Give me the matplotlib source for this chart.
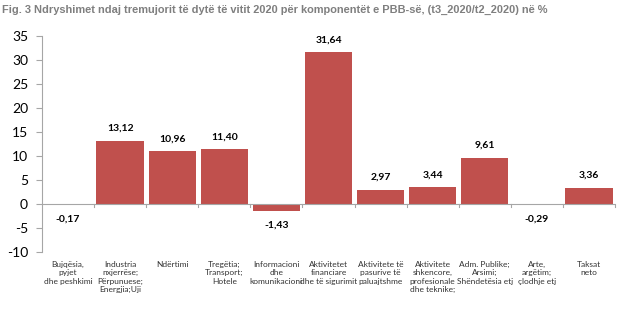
import matplotlib
matplotlib.use("Agg")
import matplotlib.pyplot as plt
import numpy as np

categories = [
    "Bujqësia,\npyjet\ndhe peshkimi",
    "Industria\nnxjerrëse;\nPërpunuese;\nEnergjia;Uji",
    "Ndërtimi",
    "Tregëtia;\nTransport;\nHotele",
    "Informacioni\ndhe\nkomunikacioni",
    "Aktivitetet\nfinanciare\ndhe të sigurimit",
    "Aktivitete të\npasurive të\npaluajtshme",
    "Aktivitete\nshkencore,\nprofesionale\ndhe teknike;",
    "Adm. Publike;\nArsimi;\nShëndetësia etj",
    "Arte,\nargëtim;\nçlodhje etj",
    "Taksat\nneto",
]
values = [-0.17, 13.12, 10.96, 11.40, -1.43, 31.64, 2.97, 3.44, 9.61, -0.29, 3.36]
yticks = [-10, -5, 0, 5, 10, 15, 20, 25, 30, 35]
title = "Fig. 3 Ndryshimet ndaj tremujorit të dytë të vitit 2020 për komponentët e PBB-së, (t3_2020/t2_2020) në %"

bar_color = "#C0504D"
axis_color = "#A6A6A6"

fig = plt.figure(figsize=(6.21, 3.26), dpi=100)
ax = fig.add_axes([42/621, 1-252/326, (615-42)/621, (252-36)/326])

x = np.arange(len(values))
ax.bar(x, values, width=0.91, color=bar_color, zorder=2)
ax.set_xlim(-0.5, len(values) - 0.5)
ax.set_ylim(-10, 35)
ax.set_yticks(yticks)
ax.set_yticklabels([str(t) for t in yticks], fontsize=10, family=["Lato", "DejaVu Sans"], color="#000000")

for s in ["top", "right", "bottom"]:
    ax.spines[s].set_visible(False)
ax.spines["left"].set_color(axis_color)
ax.spines["left"].set_linewidth(0.8)
ax.tick_params(axis="y", direction="out", length=4, color=axis_color, width=0.8, pad=6)
ax.set_xticks([])

# zero line with boundary ticks
ax.axhline(0, color=axis_color, linewidth=0.8, zorder=3)
for b in np.arange(0.5, len(values) + 0.5, 1.0):
    ax.plot([b, b], [0, -0.6], color=axis_color, linewidth=0.8, zorder=3, clip_on=False)

# value labels
for xi, v in zip(x, values):
    lab = f"{v:.2f}".replace(".", ",")
    off = 9 if v >= 0 else -10
    ax.annotate(lab, (xi, v), xytext=(0, off), textcoords="offset points",
                ha="center", va="center", fontsize=7.5, fontweight="bold",
                family=["Lato", "DejaVu Sans"], color="#000000")

# category labels
for xi, c in zip(x, categories):
    ax.text(xi, -11.9, c, ha="center", va="top", fontsize=6.0,
            family=["Lato", "DejaVu Sans"], color="#333333",
            linespacing=1.2, clip_on=False)

fig.text(2/621, 1-10/326, title, ha="left", va="center", fontsize=7.9,
         fontweight="bold", color="#7F7F7F",
         family=["Liberation Sans", "DejaVu Sans"])

fig.savefig("out.png", dpi=100)
